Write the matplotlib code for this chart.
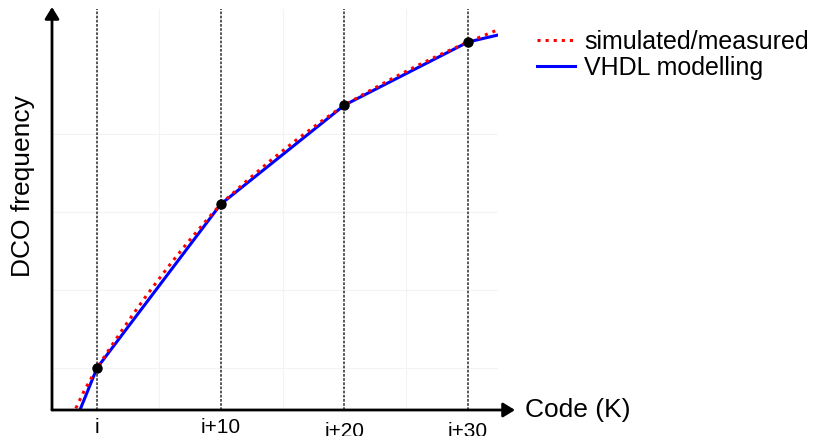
import matplotlib
matplotlib.use("Agg")
import matplotlib.pyplot as plt

plt.rcParams["font.family"] = ["Liberation Sans", "DejaVu Sans"]

# Code offsets relative to code i, and the labels for the sampled codes
tick_codes = [0, 10, 20, 30]
tick_labels = ["i", "i+10", "i+20", "i+30"]
tick_label_drop = [0, 0, 4, 4]   # small vertical stagger of the labels (px)

# Simulated / measured DCO characteristic (arbitrary frequency units)
meas_code = [-2, -1, 0, 1, 2, 3, 4, 5, 6, 7, 8, 9, 10,
             12, 14, 16, 18, 20, 22, 24, 26, 28, 30, 32, 33]
meas_freq = [0.39, 0.72, 1.00, 1.243, 1.479, 1.708, 1.929, 2.14, 2.347,
             2.545, 2.736, 2.922, 3.10, 3.386, 3.656, 3.91, 4.148, 4.37,
             4.551, 4.723, 4.885, 5.037, 5.18, 5.31, 5.37]

# Piecewise-linear VHDL model: knots every 10 codes
model_code = [-10, 0, 10, 20, 30, 40]
model_freq = [-2.9, 1.00, 3.10, 4.37, 5.18, 5.55]

# Sampled points used by the model
sample_code = [0, 10, 20, 30]
sample_freq = [1.00, 3.10, 4.37, 5.18]

W, H = 814, 436
fig = plt.figure(figsize=(W / 100, H / 100), dpi=100)
ax_left, ax_right, ax_bottom, ax_top = 52, 498, 410, 9
ax = fig.add_axes([ax_left / W, (H - ax_bottom) / H,
                   (ax_right - ax_left) / W, (ax_bottom - ax_top) / H])

ax.set_xlim(-3.64, 32.42)
ax.set_ylim(0.4615, 5.603)

# faint background grid
for gx in [5, 15, 25]:
    ax.axvline(gx, color="#f3f3f3", lw=0.8, zorder=0)
for gy in [1, 2, 3, 4]:
    ax.axhline(gy, color="#f3f3f3", lw=0.8, zorder=0)

# sample code markers
for c in tick_codes:
    ax.axvline(c, color="#3a3a3a", lw=1.2, linestyle=(0, (1.6, 0.9)), zorder=1)

ax.plot(meas_code, meas_freq, color="#ff0000", lw=2.2, linestyle=":",
        label="simulated/measured", zorder=3)
ax.plot(model_code, model_freq, color="#0000ff", lw=2.2,
        label="VHDL modelling", zorder=2)
ax.plot(sample_code, sample_freq, "o", color="black", ms=6.5, zorder=4)

for s in ax.spines.values():
    s.set_visible(False)
ax.set_xticks([])
ax.set_yticks([])

# axes drawn as arrows
arrow = dict(arrowstyle="-|>,head_length=0.7,head_width=0.43", color="black",
             lw=2.0, shrinkA=0, shrinkB=0)
ax.annotate("", xy=(0, 1 + 2 / (ax_bottom - ax_top)), xytext=(0, 0),
            xycoords="axes fraction", arrowprops=arrow, annotation_clip=False)
ax.annotate("", xy=((515 - ax_left) / (ax_right - ax_left), 0), xytext=(0, 0),
            xycoords="axes fraction", arrowprops=arrow, annotation_clip=False)

# tick labels under the axis
for c, lab, dy in zip(tick_codes, tick_labels, tick_label_drop):
    ax.annotate(lab, xy=(c, 0), xycoords=ax.get_xaxis_transform(),
                xytext=(0, -6 - dy * 0.72), textcoords="offset points",
                ha="center", va="top", fontsize=15, annotation_clip=False)

fig.text(525 / W, (H - 410) / H, "Code (K)", fontsize=19, ha="left", va="center")
fig.text(23 / W, (H - 186) / H, "DCO frequency", fontsize=19, rotation=90,
         ha="center", va="center")

fig.legend(loc="upper left", bbox_to_anchor=(537 / W, 1 - 30 / H),
           frameon=False, fontsize=18, handlelength=1.5, handletextpad=0.4,
           labelspacing=0.08, borderaxespad=0, borderpad=0)

fig.savefig("out.png", dpi=100)
